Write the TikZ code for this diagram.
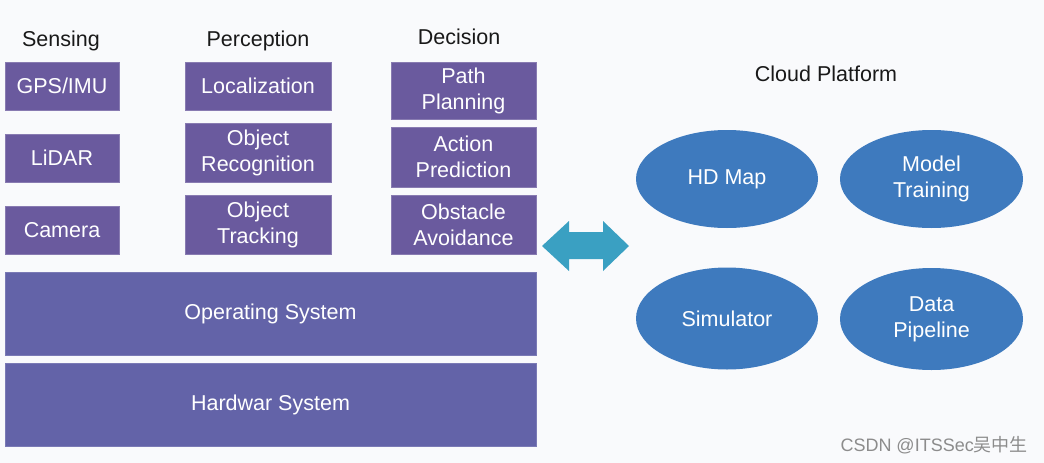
\documentclass[tikz,border=0pt]{standalone}
\usepackage{fontspec}
\setmainfont{Liberation Sans}
\newfontfamily\cjk{Noto Sans CJK SC}
\usetikzlibrary{shapes.geometric}
\definecolor{bgc}{RGB}{249,250,252}
\definecolor{boxpurple}{RGB}{106,90,158}
\definecolor{barblue}{RGB}{99,99,168}
\definecolor{ellblue}{RGB}{62,122,190}
\definecolor{arrowc}{RGB}{58,160,194}
\definecolor{titlec}{RGB}{25,25,25}
\definecolor{wmc}{RGB}{140,140,140}
\begin{document}
\begin{tikzpicture}[x=1pt,y=-1pt,
  txt/.style={font=\fontsize{21.5}{26}\selectfont, align=center},
  title/.style={txt, text=titlec, anchor=base, inner sep=0},
  pbox/.style={txt, fill=boxpurple, draw=boxpurple!80!white, line width=0.8pt, text=white, inner sep=0},
  bar/.style={txt, fill=barblue, draw=barblue!85!white, line width=0.8pt, text=white, inner sep=0, minimum width=531pt, minimum height=83pt},
  cloud/.style={txt, fill=ellblue, text=white, ellipse, inner sep=0}
]
\fill[bgc] (0,0) rectangle (1044,463);
\useasboundingbox (0,0) rectangle (1044,463);

% titles
\node[title] (tsens) at (61,46) {Sensing};
\node[title] (tperc) at (258,46) {Perception};
\node[title] (tdec) at (459,44) {Decision};
\node[title] (tcloud) at (826,81) {Cloud Platform};

% sensing
\node[pbox, minimum width=114pt, minimum height=48pt] (gps) at (62,86) {GPS/IMU};
\node[pbox, minimum width=114pt, minimum height=48pt] (lidar) at (62,158) {LiDAR};
\node[pbox, minimum width=114pt, minimum height=48pt] (cam) at (62,230) {Camera};

% perception
\node[pbox, minimum width=146pt, minimum height=48pt] (loc) at (258,86) {Localization};
\node[pbox, minimum width=146pt, minimum height=59pt] (orec) at (258,152.5) {Object\\Recognition};
\node[pbox, minimum width=146pt, minimum height=59pt] (otrk) at (258,224.5) {Object\\Tracking};

% decision
\node[pbox, minimum width=145pt, minimum height=57pt] (path) at (463.5,90.5) {Path\\Planning};
\node[pbox, minimum width=145pt, minimum height=60pt] (act) at (463.5,157) {Action\\Prediction};
\node[pbox, minimum width=145pt, minimum height=59pt] (obs) at (463.5,224.5) {Obstacle\\Avoidance};

% bars
\node[bar] (os) at (270.5,313.5) {Operating System};
\node[bar] (hw) at (270.5,404.5) {Hardwar System};

% double arrow
\fill[arrowc] (542,246) -- (569,221) -- (569,232) -- (603,232) -- (603,221)
  -- (629,246) -- (603,271) -- (603,259) -- (569,259) -- (569,271) -- cycle;

% cloud
\node[cloud, minimum width=182pt, minimum height=98pt] (hd) at (727,179) {HD Map};
\node[cloud, minimum width=183pt, minimum height=98pt] (mt) at (931.5,179) {Model\\Training};
\node[cloud, minimum width=182pt, minimum height=102pt] (sim) at (727,318.5) {Simulator};
\node[cloud, minimum width=183pt, minimum height=102pt] (dp) at (931.5,319) {Data\\Pipeline};

% watermark
\node[anchor=base east, inner sep=0, text=wmc, font=\fontsize{18}{21}\selectfont] (wm) at (1028,451) {CSDN @ITSSec{\cjk 吴中生}};
\end{tikzpicture}
\end{document}
